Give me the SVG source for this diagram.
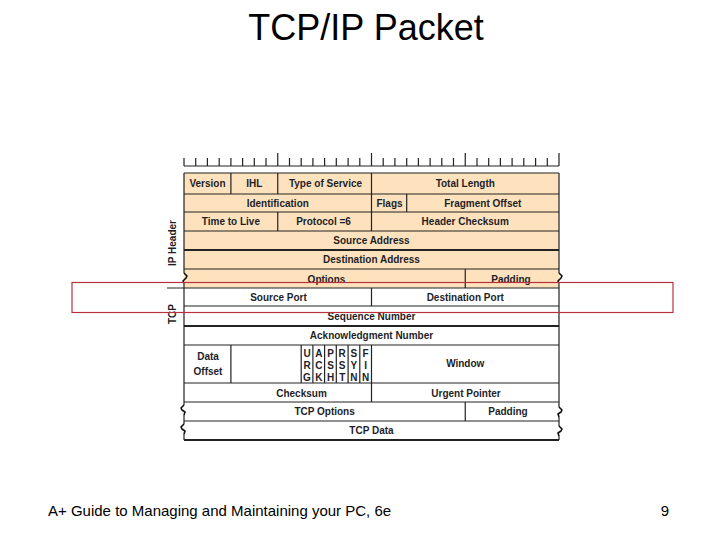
<svg xmlns="http://www.w3.org/2000/svg" width="720" height="540" viewBox="0 0 720 540">
<style>
.t{font-family:"Liberation Sans",Arial,sans-serif;font-weight:bold;font-size:10px;fill:#1e1e28;text-anchor:middle}
.f{font-family:"Liberation Sans",Arial,sans-serif;font-weight:bold;font-size:10px;fill:#1e1e28;text-anchor:middle}
.ip{fill:#fde2bd}
.ln{stroke:#222;stroke-width:1.2;fill:none}
.thk{stroke:#222;stroke-width:2.2;fill:none}
.brk{stroke:#111;stroke-width:1.6;fill:none;stroke-linejoin:round}
</style>
<rect width="720" height="540" fill="#fff"/>
<text x="366" y="40" font-family="Liberation Sans, Arial, sans-serif" font-size="36" text-anchor="middle" fill="#000">TCP/IP Packet</text>

<g id="ruler">
<path class="ln" d="M184 166H559 M184 158V166 M195.7 158V166 M207.4 158V166 M219.2 158V166 M230.9 158V166 M242.6 158V166 M254.3 158V166 M266 158V166 M277.75 153V166 M289.5 158V166 M301.2 158V166 M312.9 158V166 M324.6 158V166 M336.3 158V166 M348.1 158V166 M359.8 158V166 M371.5 153V166 M383.2 158V166 M394.9 158V166 M406.7 158V166 M418.4 158V166 M430.1 158V166 M441.8 158V166 M453.5 158V166 M465.25 153V166 M477 158V166 M488.7 158V166 M500.4 158V166 M512.1 158V166 M523.8 158V166 M535.6 158V166 M547.3 158V166 M559 153V166"/>
</g>

<g id="ip-background">
<rect class="ip" x="184" y="173" width="375" height="115"/>
</g>

<g id="connectors">
<path class="ln" d="M184 173H559 M184 194H559 M184 212H559 M184 231H559 M184 269H559 M184 306H559 M184 345H559 M184 383H559 M184 402H559 M184 421H559"/>
<path class="ln" d="M167 288H559"/>
<path class="thk" d="M184 250H559 M184 326H559 M184 440H559"/>
<path class="ln" d="M184 173V273 M184 283V405 M184 415V424 M184 434V440"/>
<path class="ln" d="M559 173V273 M559 283V407 M559 417V426 M559 436V440"/>
<path class="brk" d="M184 273l3 3l-1 2l-3 3l1 2 M184 405l-3 3l1 2l3 2l-1 3 M184 424l-3 3l1 2l3 2l-1 3 M559 273l3 3l-1 2l-3 3l1 2 M559 407l3 3l-1 2l-3 2l1 3 M559 426l3 3l-1 2l-3 2l1 3"/>
<path class="ln" d="M230.9 173V194 M277.75 173V194 M371.5 173V194 M371.5 194V212 M406.7 194V212 M277.75 212V231 M371.5 212V231 M465.25 269V288 M371.5 288V306 M230.9 345V383 M301.2 345V383 M312.9 345V383 M324.6 345V383 M336.3 345V383 M348.1 345V383 M359.8 345V383 M371.5 345V383 M371.5 383V402 M465.25 402V421"/>
</g>

<g id="labels-side">
<text class="t" transform="translate(176,243) rotate(-90)">IP Header</text>
<text class="t" transform="translate(176,314) rotate(-90)">TCP</text>
</g>

<g id="version"><text class="t" x="207.5" y="187">Version</text></g>
<g id="ihl"><text class="t" x="254.3" y="187">IHL</text></g>
<g id="tos"><text class="t" x="325.5" y="187">Type of Service</text></g>
<g id="total-length"><text class="t" x="465.25" y="187">Total Length</text></g>
<g id="identification"><text class="t" x="277.75" y="206.5">Identification</text></g>
<g id="flags"><text class="t" x="389.5" y="206.5">Flags</text></g>
<g id="fragment-offset"><text class="t" x="482.8" y="206.5">Fragment Offset</text></g>
<g id="ttl"><text class="t" x="230.9" y="225">Time to Live</text></g>
<g id="protocol"><text class="t" x="323.5" y="225">Protocol =6</text></g>
<g id="header-checksum"><text class="t" x="465.25" y="225">Header Checksum</text></g>
<g id="source-address"><text class="t" x="371.5" y="244">Source Address</text></g>
<g id="destination-address"><text class="t" x="371.5" y="263">Destination Address</text></g>
<g id="options"><text class="t" x="326.5" y="282.5">Options</text></g>
<g id="padding-ip"><text class="t" x="511" y="282.5">Padding</text></g>
<g id="source-port"><text class="t" x="278.5" y="300.5">Source Port</text></g>
<g id="destination-port"><text class="t" x="465.25" y="300.5">Destination Port</text></g>
<g id="sequence-number"><text class="t" x="371.5" y="320">Sequence Number</text></g>
<g id="ack-number"><text class="t" x="371.5" y="339">Acknowledgment Number</text></g>
<g id="data-offset"><text class="t" x="208" y="360">Data</text><text class="t" x="208" y="375">Offset</text></g>
<g id="tcp-flags">
<text class="f" x="307" y="357">U</text><text class="f" x="307" y="369">R</text><text class="f" x="307" y="381">G</text>
<text class="f" x="318.8" y="357">A</text><text class="f" x="318.8" y="369">C</text><text class="f" x="318.8" y="381">K</text>
<text class="f" x="330.5" y="357">P</text><text class="f" x="330.5" y="369">S</text><text class="f" x="330.5" y="381">H</text>
<text class="f" x="342.2" y="357">R</text><text class="f" x="342.2" y="369">S</text><text class="f" x="342.2" y="381">T</text>
<text class="f" x="353.9" y="357">S</text><text class="f" x="353.9" y="369">Y</text><text class="f" x="353.9" y="381">N</text>
<text class="f" x="365.6" y="357">F</text><text class="f" x="365.6" y="369">I</text><text class="f" x="365.6" y="381">N</text>
</g>
<g id="window"><text class="t" x="465.25" y="367">Window</text></g>
<g id="checksum"><text class="t" x="301.5" y="396.5">Checksum</text></g>
<g id="urgent-pointer"><text class="t" x="466" y="396.5">Urgent Pointer</text></g>
<g id="tcp-options"><text class="t" x="324.6" y="415">TCP Options</text></g>
<g id="padding-tcp"><text class="t" x="508" y="415">Padding</text></g>
<g id="tcp-data"><text class="t" x="371.5" y="434">TCP Data</text></g>

<g id="highlight"><rect x="72" y="282.5" width="601" height="30" fill="none" stroke="#b8323c" stroke-width="1.2"/></g>

<text x="48" y="516" font-family="Liberation Sans, Arial, sans-serif" font-size="15" fill="#000">A+ Guide to Managing and Maintaining your PC, 6e</text>
<text x="669" y="516" font-family="Liberation Sans, Arial, sans-serif" font-size="15" fill="#000" text-anchor="end">9</text>
</svg>
